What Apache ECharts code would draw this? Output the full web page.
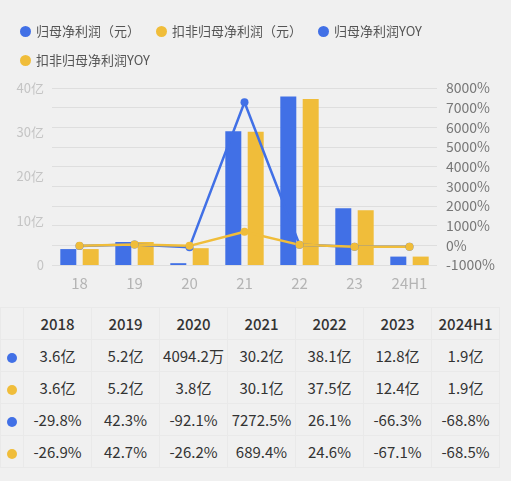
<!DOCTYPE html>
<html>
<head>
<meta charset="utf-8">
<script src="https://cdn.jsdelivr.net/npm/echarts@6/dist/echarts.min.js"></script>
<style>
  html, body { margin: 0; padding: 0; background: #f0f0f0; }
  body { width: 511px; height: 481px; position: relative; overflow: hidden;
         font-family: "Noto Sans CJK SC", "Noto Sans", sans-serif; }
  #chart { position: absolute; left: 0; top: 0; width: 511px; height: 300px; }
  #tbl { position: absolute; left: 0; top: 307px; border-collapse: collapse; color: #333; font-size: 15px; }
  #tbl td { border: 1px solid #e9e9e9; height: 31px; text-align: center; padding: 0; white-space: nowrap; }
  #tbl td.k { width: 22px; }
  #tbl td.v { width: 67px; }
  #tbl tr.h td { font-weight: 500; }
  .dot { display: inline-block; width: 10px; height: 10px; border-radius: 50%; vertical-align: middle; }
</style>
</head>
<body>
<div id="chart"></div>
<table id="tbl"></table>
<script>
// categories
const years = ['2018', '2019', '2020', '2021', '2022', '2023', '2024H1']
const xLabels = ['18', '19', '20', '21', '22', '23', '24H1']

// 归母净利润 / 扣非归母净利润, 亿元
const netProfit = [3.6, 5.2, 0.41, 30.2, 38.1, 12.8, 1.9]
const deductProfit = [3.6, 5.2, 3.8, 30.1, 37.5, 12.4, 1.9]

// YOY, %
const netYoy = [-29.8, 42.3, -92.1, 7272.5, 26.1, -66.3, -68.8]
const deductYoy = [-26.9, 42.7, -26.2, 689.4, 24.6, -67.1, -68.5]

// 表格里显示的文字
const netText = ['3.6亿', '5.2亿', '4094.2万', '30.2亿', '38.1亿', '12.8亿', '1.9亿']
const deductText = ['3.6亿', '5.2亿', '3.8亿', '30.1亿', '37.5亿', '12.4亿', '1.9亿']

const names = ['归母净利润（元）', '扣非归母净利润（元）', '归母净利润YOY', '扣非归母净利润YOY']
const BLUE = '#4170e6'
const YELLOW = '#f0bd3a'

const chart = echarts.init(document.getElementById('chart'))

const option = {
  backgroundColor: 'transparent',
  textStyle: { fontFamily: '"Noto Sans CJK SC", sans-serif' },
  legend: {
    left: 15,
    top: 20,
    width: 440,
    icon: 'circle',
    itemWidth: 11,
    itemHeight: 11,
    itemGap: 16,
    textStyle: { fontSize: 13, color: '#555' },
    data: names
  },
  grid: { left: 52, right: 74, top: 88, bottom: 35 },
  xAxis: {
    type: 'category',
    data: xLabels,
    axisLine: { show: false },
    axisTick: { show: false },
    axisLabel: { color: '#b4b4b4', fontSize: 15, margin: 11 }
  },
  yAxis: [{
    type: 'value',
    min: 0,
    max: 40,
    interval: 10,
    splitLine: { show: false },
    axisLabel: {
      color: '#c4c4c4',
      fontSize: 13,
      formatter: v => v === 0 ? '0' : v + '亿'
    }
  }, {
    type: 'value',
    min: -1000,
    max: 8000,
    interval: 1000,
    splitLine: { lineStyle: { color: '#dedede' } },
    axisLabel: { color: '#777', fontSize: 14, margin: 9, formatter: v => v + '%' }
  }],
  series: [{
    name: names[0],
    type: 'bar',
    data: netProfit,
    barWidth: 16,
    barGap: '40%',
    itemStyle: { color: BLUE }
  }, {
    name: names[1],
    type: 'bar',
    data: deductProfit,
    barWidth: 16,
    barGap: '40%',
    itemStyle: { color: YELLOW }
  }, {
    name: names[2],
    type: 'line',
    yAxisIndex: 1,
    data: netYoy,
    symbol: 'circle',
    symbolSize: 8,
    lineStyle: { width: 2.5, color: BLUE },
    itemStyle: { color: BLUE }
  }, {
    name: names[3],
    type: 'line',
    yAxisIndex: 1,
    data: deductYoy,
    symbol: 'circle',
    symbolSize: 8,
    lineStyle: { width: 2.5, color: YELLOW },
    itemStyle: { color: YELLOW }
  }]
}

chart.setOption(option)

// 下方表格
const pct = v => v.toFixed(1) + '%'
const rows = [
  { dot: null, cells: years },
  { dot: BLUE, cells: netText },
  { dot: YELLOW, cells: deductText },
  { dot: BLUE, cells: netYoy.map(pct) },
  { dot: YELLOW, cells: deductYoy.map(pct) }
]
const tbl = document.getElementById('tbl')
rows.forEach((r, i) => {
  const tr = document.createElement('tr')
  if (i === 0) tr.className = 'h'
  const k = document.createElement('td')
  k.className = 'k'
  if (r.dot) k.innerHTML = '<span class="dot" style="background:' + r.dot + '"></span>'
  tr.appendChild(k)
  r.cells.forEach(c => {
    const td = document.createElement('td')
    td.className = 'v'
    td.textContent = c
    tr.appendChild(td)
  })
  tbl.appendChild(tr)
})
</script>
</body>
</html>
